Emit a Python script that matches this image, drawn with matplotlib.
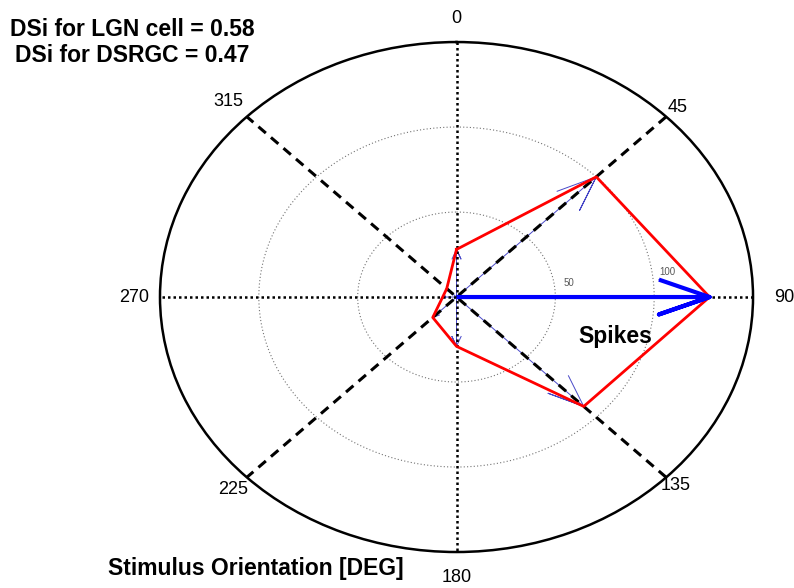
import numpy as np
import matplotlib
matplotlib.use("Agg")
import matplotlib.pyplot as plt

plt.rcParams["font.family"] = ["Liberation Sans", "DejaVu Sans"]

# data
angles_deg = [0, 45, 90, 135, 180, 225, 270, 315]
spikes = [28, 100, 128, 91, 29, 17, 7, 7]
ring_values = [50, 100]
r_max = 150
dsi_lgn = 0.58
dsi_dsrgc = 0.47
tick_labels = ["0", "45", "90", "135", "180", "225", "270", "315"]

theta = np.deg2rad(angles_deg)

fig = plt.figure(figsize=(7.94, 5.88), dpi=100)
ax = fig.add_axes([0.2015, 0.0612, 0.7469, 0.8673], projection="polar")
ax.set_aspect("auto")
ax.set_theta_zero_location("N")
ax.set_theta_direction(-1)
ax.set_ylim(0, r_max)
ax.grid(False)
ax.set_xticks([])
ax.set_yticks([])
ax.spines["polar"].set_linewidth(1.8)
ax.spines["polar"].set_color("black")

# rings
circ = np.linspace(0, 2 * np.pi, 400)
for rv in ring_values:
    ax.plot(circ, np.full_like(circ, rv), color="0.45", lw=0.8,
            linestyle=(0, (1, 2)), zorder=1)
    ax.text(np.deg2rad(82), rv + 7.5, str(rv), fontsize=7, color="0.35",
            ha="center", va="center")


def arrow(t, r, **kw):
    # compass-style arrow: shaft plus two head strokes (0.2 back, 0.08 wide)
    pts = np.array([[0, 0], [1, 0], [0.8, 0.08], [1, 0], [0.8, -0.08]]) * r
    ang = np.arctan2(pts[:, 1], pts[:, 0]) + t
    rad = np.hypot(pts[:, 0], pts[:, 1])
    ax.plot(ang, rad, **kw)


# thin vectors sit under the spokes, only the heads show
for t, r in zip(theta, spikes):
    arrow(t, r, color="#4848c8", lw=0.7, zorder=1.5)

# spokes
for a in [0, 90]:
    t = np.deg2rad(a)
    ax.plot([t, 0, t + np.pi], [r_max, 0, r_max], color="black", lw=1.8,
            linestyle=(0, (1, 1.2)), zorder=2)
for a in [45, 135]:
    t = np.deg2rad(a)
    ax.plot([t, 0, t + np.pi], [r_max, 0, r_max], color="black", lw=2.2,
            linestyle=(0, (3.2, 2.2)), zorder=2)

# response polygon
ax.plot(np.append(theta, theta[0]), spikes + [spikes[0]], color="red",
        lw=2, zorder=4)

imax = int(np.argmax(spikes))
arrow(theta[imax], spikes[imax], color="#0000ff", lw=3, zorder=5,
      solid_capstyle="butt")

# angle labels
label_r = [164, 158, 166, 157, 165, 160, 163, 163]
for t, lab, rr in zip(theta, tick_labels, label_r):
    ax.text(t, rr, lab, fontsize=13, ha="center", va="center", clip_on=False)

fig.text(132 / 794, 1 - 30 / 588, f"DSi for LGN cell = {dsi_lgn:.2f}",
         fontsize=16.5, fontweight="bold", ha="center", va="center")
fig.text(132 / 794, 1 - 55 / 588, f"DSi for DSRGC = {dsi_dsrgc:.2f}",
         fontsize=16.5, fontweight="bold", ha="center", va="center")
fig.text(615 / 794, 1 - 337 / 588, "Spikes", fontsize=16.5,
         fontweight="bold", ha="center", va="center")
fig.text(108 / 794, 1 - 568 / 588, "Stimulus Orientation [DEG]",
         fontsize=16.5, fontweight="bold", ha="left", va="center")

fig.savefig("out.png", dpi=100)
